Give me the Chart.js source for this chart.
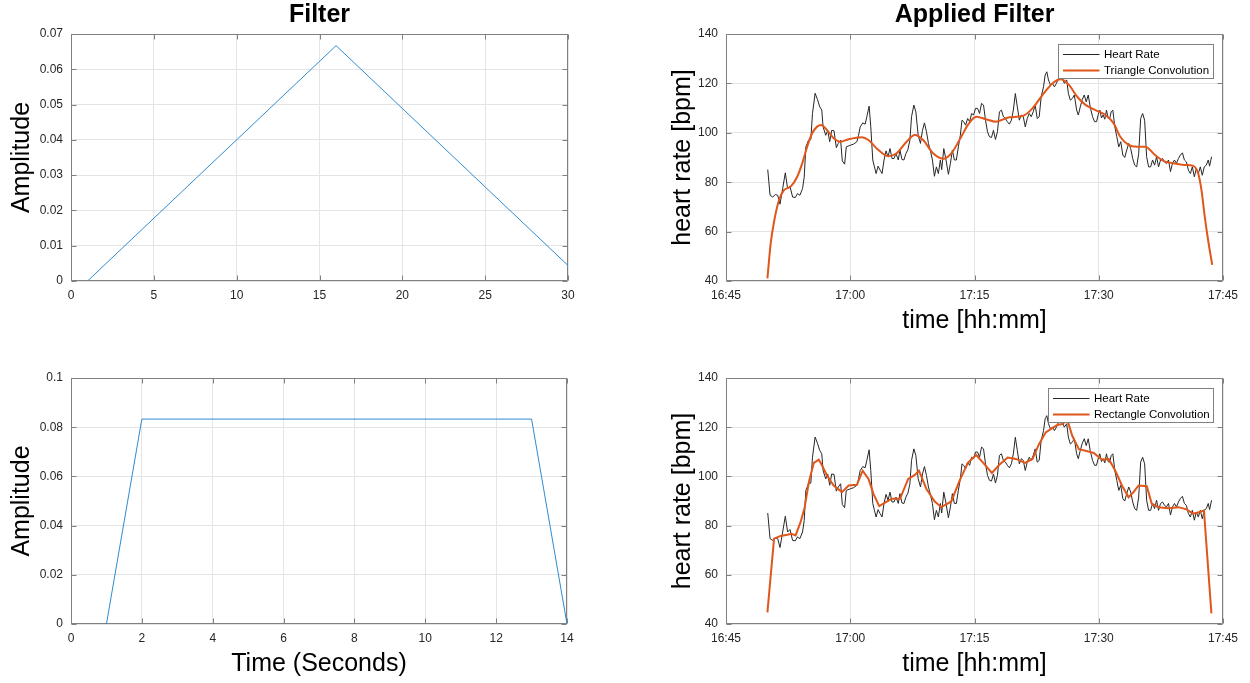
<!DOCTYPE html>
<html><head><meta charset="utf-8">
<script src="https://cdn.jsdelivr.net/npm/chart.js@4.4.1/dist/chart.umd.min.js"></script>
<style>
html,body{margin:0;padding:0;background:#fff;}
body{width:1250px;height:683px;position:relative;overflow:hidden;}
canvas{position:absolute;}
</style></head><body>
<canvas id="tl" width="625" height="345" style="left:0;top:0"></canvas>
<canvas id="tr" width="625" height="345" style="left:625px;top:0"></canvas>
<canvas id="bl" width="625" height="338" style="left:0;top:345px"></canvas>
<canvas id="br" width="625" height="338" style="left:625px;top:345px"></canvas>
<script>
// ---------- data ----------
const triangleX = [1, 16, 30];
const triangleY = [0, 0.0667, 0.0044];
const rectX = [1, 2, 13, 14];
const rectY = [0, 0.0833, 0.0833, 0];

const triXTicks = [0, 5, 10, 15, 20, 25, 30];
const triYTicks = [0, 0.01, 0.02, 0.03, 0.04, 0.05, 0.06, 0.07];
const rectXTicks = [0, 2, 4, 6, 8, 10, 12, 14];
const rectYTicks = [0, 0.02, 0.04, 0.06, 0.08, 0.1];

// time axis: minutes after 16:45
const timeTickMinutes = [0, 15, 30, 45, 60];
const timeTickLabels = ['16:45', '17:00', '17:15', '17:30', '17:45'];
const hrYTicks = [40, 60, 80, 100, 120, 140];

const hrMinutes = [5.04,5.32,5.64,5.96,6.24,6.52,6.84,7.16,7.44,7.72,8.04,8.36,8.64,8.92,9.24,9.44,9.64,9.96,10.24,10.44,10.76,11.04,11.32,11.56,11.72,12.04,12.28,12.52,12.76,13.04,13.32,13.56,13.84,14.04,14.32,14.52,15.04,15.4,15.8,16.0,16.2,16.52,16.8,17.0,17.28,17.48,17.72,17.92,18.12,18.36,18.6,18.84,19.08,19.32,19.56,19.8,20.04,20.28,20.52,20.8,21.0,21.24,21.48,21.72,21.96,22.2,22.4,22.68,22.92,23.2,23.48,23.72,23.96,24.2,24.44,24.68,24.92,25.16,25.4,25.64,25.88,26.04,26.29,26.53,26.85,27.09,27.33,27.57,27.81,28.05,28.29,28.49,28.69,28.93,29.17,29.41,29.65,29.89,30.13,30.37,30.61,30.85,31.09,31.33,31.57,31.81,32.05,32.29,32.53,32.77,33.01,33.25,33.49,33.73,33.97,34.21,34.45,34.69,34.93,35.17,35.41,35.65,35.89,36.13,36.37,36.61,36.85,37.09,37.33,37.57,37.81,38.05,38.33,38.53,38.73,38.93,39.17,39.41,39.65,39.89,40.13,40.37,40.61,40.85,41.13,41.33,41.57,41.81,42.05,42.33,42.53,42.77,43.01,43.25,43.49,43.73,43.97,44.25,44.5,44.73,44.95,45.13,45.33,45.53,45.73,45.93,46.13,46.33,46.5,46.7,46.94,47.18,47.42,47.66,47.9,48.14,48.38,48.62,48.86,49.1,49.34,49.58,49.82,50.06,50.3,50.54,50.78,51.02,51.26,51.5,51.74,51.98,52.22,52.46,52.7,52.94,53.18,53.42,53.66,53.9,54.14,54.38,54.62,54.86,55.1,55.34,55.58,55.82,56.06,56.3,56.54,56.78,57.02,57.26,57.5,57.74,57.98,58.22,58.38,58.62];
const hrBpm = [85.1,74.7,74.0,75.0,74.7,71.1,77.4,83.8,77.4,78.4,74.0,73.8,75.4,74.7,77.4,82.0,94.3,97.0,97.3,107.8,116.0,113.5,110.5,109.2,102.4,99.0,101.0,96.4,101.0,100.8,94.0,95.7,97.0,88.6,87.3,94.3,95.0,95.4,96.4,99.0,102.4,104.0,103.5,106.5,110.8,102.4,89.0,86.2,83.5,86.5,84.9,83.5,89.0,92.7,90.3,93.6,89.6,89.6,91.6,89.0,93.0,89.2,89.0,91.6,93.2,97.0,106.5,111.2,108.5,99.0,95.7,101.0,104.0,100.4,95.7,92.7,89.0,82.4,86.2,83.5,89.0,85.1,93.6,89.6,83.2,87.6,93.0,89.0,89.0,94.3,99.0,105.1,104.5,103.1,105.8,104.5,107.8,107.2,109.9,109.9,107.8,111.9,111.2,105.1,100.4,98.4,98.1,101.0,97.3,100.4,108.5,109.2,106.5,105.8,104.5,103.5,105.1,109.2,115.9,110.5,105.1,107.2,106.5,102.4,105.8,107.8,106.5,108.5,111.2,105.8,106.5,114.6,118.6,123.4,124.7,121.4,119.3,120.0,118.6,120.0,122.0,123.4,122.0,120.0,121.4,116.0,113.2,113.9,115.3,109.2,107.2,110.5,113.5,115.3,112.5,115.3,110.5,106.5,104.5,104.5,107.5,109.2,106.0,107.2,105.5,109.2,106.0,105.8,108.5,109.2,102.4,98.4,94.3,96.4,91.0,90.0,93.0,95.7,93.6,89.6,86.9,86.2,91.6,105.8,107.8,105.1,90.3,86.2,86.2,89.0,86.9,90.3,86.2,89.0,89.6,88.2,87.6,89.0,84.3,87.6,89.0,87.6,89.6,91.0,91.9,89.0,88.2,84.9,83.5,86.2,82.2,85.5,83.5,86.2,82.8,86.2,86.9,89.0,86.5,90.3];

const triConvMinutes = [5.0,5.4,5.8,6.4,7.0,7.8,8.6,9.2,9.8,10.4,11.0,11.5,12.2,13.0,13.8,14.8,16.4,17.2,18.4,19.6,20.6,21.8,22.8,23.8,25.0,26.2,27.2,28.4,29.2,30.2,31.4,32.6,34.2,35.8,37.0,38.2,39.4,40.4,41.4,42.4,43.4,44.6,45.8,46.8,47.6,48.6,49.6,50.6,51.8,53.0,54.2,55.4,56.4,57.0,57.4,57.8,58.2,58.7];
const triConvBpm = [41.1,55.3,64.0,72.8,76.8,78.2,82.2,87.6,94.4,99.8,102.5,103.2,101.1,97.8,96.4,97.4,98.2,97.1,93.0,90.5,91.7,96.4,99.1,97.1,91.7,89.5,91.7,98.4,103.2,106.5,105.5,104.5,106.3,106.8,109.9,115.3,120.0,121.7,119.4,114.6,111.3,109.2,107.2,103.8,98.4,95.1,94.4,94.4,91.0,88.3,87.6,87.0,86.6,83.6,76.8,66.0,56.6,46.5];

const rectConvMinutes = [5.0,5.8,6.6,7.4,7.9,8.4,9.0,9.5,10.0,10.6,11.2,11.6,12.2,13.0,14.0,14.8,15.8,16.5,17.2,17.8,18.5,19.2,20.0,21.0,22.0,22.8,23.3,24.2,25.2,26.0,27.2,28.2,29.2,30.2,31.0,32.1,33.0,34.0,35.0,36.1,37.0,37.8,38.6,39.2,40.0,40.6,41.2,41.8,42.6,43.4,44.4,45.4,46.2,47.0,47.8,48.6,49.2,49.8,50.8,51.4,52.2,53.4,54.6,55.6,56.4,57.2,57.7,58.6];
const rectConvBpm = [44.7,74.7,75.8,76.3,76.7,76.0,81.4,87.5,97.6,105.5,106.8,104.4,100.3,96.3,93.6,96.3,96.6,102.3,99.0,92.9,87.9,89.3,90.9,90.9,99.0,100.6,102.3,94.9,89.8,87.5,89.8,98.3,105.5,108.7,105.7,101.4,104.7,107.7,107.1,105.5,107.1,113.2,117.9,119.2,120.9,121.3,123.0,116.5,111.1,110.4,109.5,106.8,107.1,102.3,96.3,91.5,93.6,96.3,96.0,88.9,87.5,87.1,87.5,86.6,84.8,85.5,86.2,44.3];

// ---------- style ----------
const FONT = '"Liberation Sans", Arial, Helvetica, sans-serif';
const AXIS_COLOR = '#808080';
const GRID_COLOR = '#e4e4e4';
const TEXT_COLOR = '#262626';
const BLUE = '#2f8bd0';
const ORANGE = '#e0561b';
const BLACK = '#262626';

const pts = (xs, ys) => xs.map((x, i) => ({x, y: ys[i]}));

const framePlugin = {
  id: 'frame',
  beforeDatasetsDraw(chart) {
    const {ctx, chartArea: a, scales} = chart;
    const x = scales.x, y = scales.y;
    ctx.save();
    ctx.strokeStyle = AXIS_COLOR;
    ctx.lineWidth = 1;
    ctx.beginPath();
    const L = Math.round(a.left) + 0.5, R = Math.round(a.right) - 0.5;
    const T = Math.round(a.top) + 0.5, B = Math.round(a.bottom) - 0.5;
    x.ticks.forEach(t => {
      const px = Math.round(x.getPixelForValue(t.value)) + 0.5;
      ctx.moveTo(px, B); ctx.lineTo(px, B - 5);
      ctx.moveTo(px, T); ctx.lineTo(px, T + 5);
    });
    y.ticks.forEach(t => {
      const py = Math.round(y.getPixelForValue(t.value)) + 0.5;
      ctx.moveTo(L, py); ctx.lineTo(L + 5, py);
      ctx.moveTo(R, py); ctx.lineTo(R - 5, py);
    });
    ctx.rect(L, T, R - L, B - T);
    ctx.stroke();
    ctx.restore();
  }
};

const boxLegend = {
  id: 'boxLegend',
  afterDatasetsDraw(chart, args, opts) {
    if (!opts || !opts.show) return;
    const {ctx, chartArea: a} = chart;
    const ds = chart.data.datasets;
    ctx.save();
    ctx.font = '11.5px ' + FONT;
    const tw = Math.max(...ds.map(d => ctx.measureText(d.label).width));
    const w = Math.round(45.5 + tw + 4), h = 34;
    const left = Math.round(a.right - 10 - w) + 0.5, top = Math.round(a.top + 10) + 0.5;
    ctx.fillStyle = '#fff';
    ctx.fillRect(left, top, w, h);
    ctx.strokeStyle = AXIS_COLOR;
    ctx.lineWidth = 1;
    ctx.strokeRect(left, top, w, h);
    ds.forEach((d, i) => {
      const cy = top + 10 + i * 16;
      ctx.strokeStyle = d.borderColor;
      ctx.lineWidth = d.borderWidth;
      ctx.beginPath();
      ctx.moveTo(left + 4.5, cy); ctx.lineTo(left + 41, cy);
      ctx.stroke();
      ctx.fillStyle = '#000';
      ctx.textBaseline = 'middle';
      ctx.textAlign = 'left';
      ctx.fillText(d.label, left + 45.5, cy + 0.5);
    });
    ctx.restore();
  }
};

function axis(min, max, tickVals, tickLabels, fitProp, fitSize, titleText, titlePad, tickPad) {
  return {
    type: 'linear',
    min, max,
    afterBuildTicks: s => { s.ticks = tickVals.map(v => ({value: v})); },
    afterFit: s => { s[fitProp] = fitSize; },
    grid: {color: GRID_COLOR, lineWidth: 1, drawTicks: false},
    border: {display: false},
    ticks: {
      color: TEXT_COLOR,
      font: {family: FONT, size: 12},
      padding: tickPad,
      maxRotation: 0,
      autoSkip: false,
      callback: (v, i) => tickLabels ? tickLabels[i] : String(v)
    },
    title: titleText ? {
      display: true, text: titleText, color: '#000',
      font: {family: FONT, size: 25},
      padding: titlePad
    } : {display: false}
  };
}

function makeChart(id, datasets, o) {
  return new Chart(document.getElementById(id), {
    type: 'line',
    data: {datasets},
    plugins: [framePlugin, boxLegend],
    options: {
      responsive: false,
      animation: false,
      devicePixelRatio: 1,
      layout: {padding: o.padding},
      elements: {point: {radius: 0}},
      plugins: {
        legend: {display: false},
        tooltip: {enabled: false},
        title: o.title ? {
          display: true, text: o.title, fullSize: false, color: '#000',
          font: {family: FONT, size: 25, weight: 'bold'},
          padding: {top: 0, bottom: 4}
        } : {display: false},
        boxLegend: {show: !!o.legend}
      },
      scales: {x: o.x, y: o.y}
    }
  });
}

// Top-left: triangle filter
makeChart('tl', [
  {label: 'Triangle', data: pts(triangleX, triangleY), borderColor: BLUE, borderWidth: 1, tension: 0}
], {
  title: 'Filter',
  padding: {left: 0, right: 57, top: 0, bottom: 0},
  x: axis(0, 30, triXTicks, null, 'height', 64, null, null, 7),
  y: axis(0, 0.07, triYTicks, null, 'width', 71, 'Amplitude', {top: 7, bottom: 0}, 8)
});

// Bottom-left: rectangle filter
makeChart('bl', [
  {label: 'Rectangle', data: pts(rectX, rectY), borderColor: BLUE, borderWidth: 1, tension: 0}
], {
  padding: {left: 0, right: 58, top: 33, bottom: 4},
  x: axis(0, 14, rectXTicks, null, 'height', 55, 'Time (Seconds)', {top: 0, bottom: 0}, 7),
  y: axis(0, 0.1, rectYTicks, null, 'width', 71, 'Amplitude', {top: 7, bottom: 0}, 8)
});

// Top-right: triangle convolution
makeChart('tr', [
  {label: 'Heart Rate', data: pts(hrMinutes, hrBpm), borderColor: BLACK, borderWidth: 1, tension: 0, order: 1},
  {label: 'Triangle Convolution', data: pts(triConvMinutes, triConvBpm), borderColor: ORANGE, borderWidth: 2, cubicInterpolationMode: 'monotone', order: 0}
], {
  title: 'Applied Filter',
  legend: true,
  padding: {left: 0, right: 27, top: 0, bottom: 9},
  x: axis(0, 60, timeTickMinutes, timeTickLabels, 'height', 55, 'time [hh:mm]', {top: 0, bottom: 0}, 7),
  y: axis(40, 140, hrYTicks, null, 'width', 101, 'heart rate [bpm]', {top: 43, bottom: 0}, 8)
});

// Bottom-right: rectangle convolution
makeChart('br', [
  {label: 'Heart Rate', data: pts(hrMinutes, hrBpm), borderColor: BLACK, borderWidth: 1, tension: 0, order: 1},
  {label: 'Rectangle Convolution', data: pts(rectConvMinutes, rectConvBpm), borderColor: ORANGE, borderWidth: 2, tension: 0, order: 0}
], {
  legend: true,
  padding: {left: 0, right: 27, top: 33, bottom: 4},
  x: axis(0, 60, timeTickMinutes, timeTickLabels, 'height', 55, 'time [hh:mm]', {top: 0, bottom: 0}, 7),
  y: axis(40, 140, hrYTicks, null, 'width', 101, 'heart rate [bpm]', {top: 43, bottom: 0}, 8)
});
</script>
</body></html>
